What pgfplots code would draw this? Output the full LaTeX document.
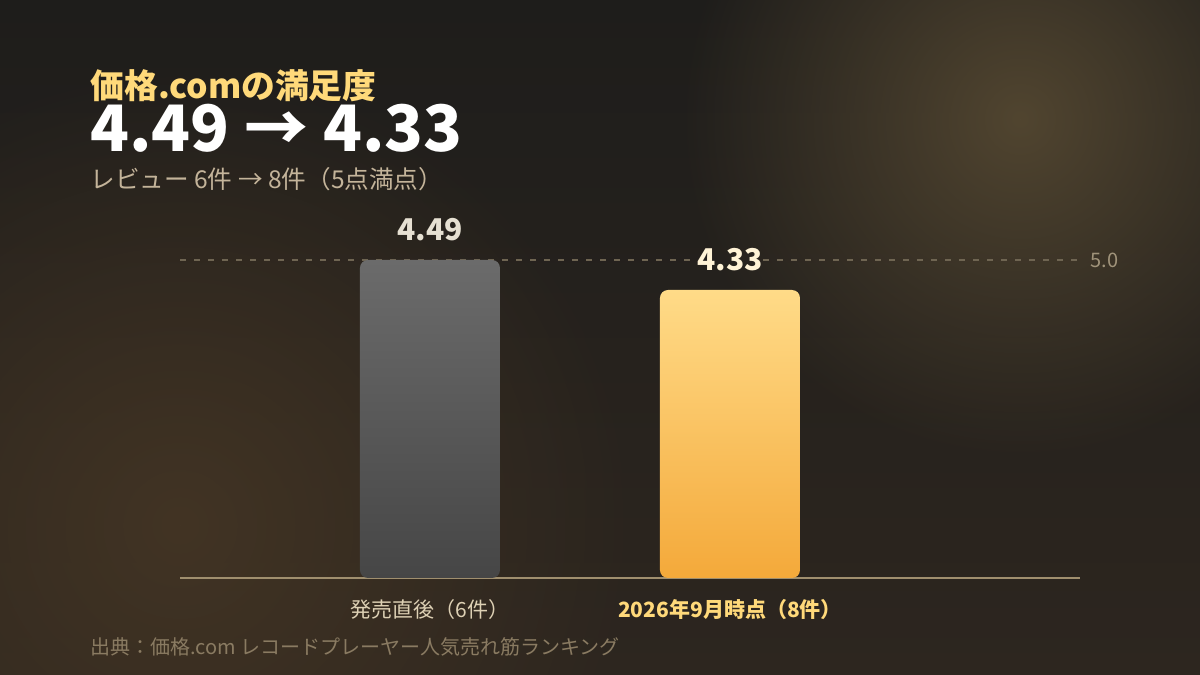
\documentclass[border=0pt]{standalone}
\usepackage{pgfplots}
\pgfplotsset{compat=1.18}
\usepackage{pgfplotstable}
\usepackage{fontspec}
\setmainfont{Noto Sans CJK JP}
\usetikzlibrary{fadings}

\definecolor{bgtop}{HTML}{1E1D1B}
\definecolor{bgbot}{HTML}{2D261F}
\definecolor{glowA}{HTML}{514530}
\definecolor{glowB}{HTML}{423424}
\definecolor{grayTop}{HTML}{6B6B6B}
\definecolor{grayBot}{HTML}{464646}
\definecolor{goldTop}{HTML}{FFDB88}
\definecolor{goldBot}{HTML}{F4A93A}
\definecolor{titleY}{HTML}{FFD97A}
\definecolor{subC}{HTML}{C4B49A}
\definecolor{catA}{HTML}{DDD0B4}
\definecolor{baseC}{HTML}{A08F6E}
\definecolor{dashC}{HTML}{6F6552}
\definecolor{refC}{HTML}{A0937A}
\definecolor{srcC}{HTML}{8A7B62}
\definecolor{valA}{HTML}{E6E0D2}
\definecolor{valB}{HTML}{FFF3D6}

\tikzfading[name=glowfade, inner color=transparent!0, outer color=transparent!100]

% scores; bars are drawn from the visual base 2.794
\pgfplotstableread{
x v
0 4.49
}\before
\pgfplotstableread{
x v
1 4.33
}\after

\begin{document}
\begin{tikzpicture}
\useasboundingbox (0,0) rectangle (600pt,337.5pt);
\begin{scope}
\clip (0,0) rectangle (600pt,337.5pt);
\shade[top color=bgtop, bottom color=bgbot] (0,0) rectangle (600pt,337.5pt);
\fill[glowA, path fading=glowfade] (510pt,278pt) circle (170pt);
\fill[glowB, path fading=glowfade] (90pt,75pt) circle (230pt);
\end{scope}

\node[anchor=base west, inner sep=0, text=titleY, font=\fontsize{16.9pt}{20pt}\selectfont\bfseries] at (45pt,288pt) {価格.comの満足度};
\node[anchor=base west, inner sep=0, text=white, font=\fontsize{32pt}{36pt}\selectfont\bfseries] at (45pt,261.5pt) {4.49 → 4.33};
\node[anchor=base west, inner sep=0, text=subC, font=\fontsize{12.3pt}{14pt}\selectfont] at (45pt,243pt) {レビュー 6件 → 8件（5点満点）};
\node[anchor=base west, inner sep=0, text=srcC, font=\fontsize{10pt}{12pt}\selectfont] at (45pt,10pt) {出典：価格.com レコードプレーヤー人気売れ筋ランキング};

\begin{axis}[
  scale only axis,
  width=450pt, height=189pt,
  at={(90pt,48.5pt)}, anchor=south west,
  xmin=-0.8333, xmax=2.1667,
  ymin=0, ymax=2.016,
  axis x line=bottom, axis y line=none,
  x axis line style={-, color=baseC, line width=0.8pt},
  xtick={0,1},
  xticklabels={{\textcolor{catA}{発売直後（6件）}},{\textcolor{titleY}{\bfseries 2026年9月時点（8件）}}},
  major tick length=0pt,
  xticklabel style={anchor=center, yshift=-16pt, font=\fontsize{10.5pt}{12pt}\selectfont},
  clip=false,
]
\addplot[dashC, line width=0.6pt, dash pattern=on 3pt off 4pt, forget plot]
  coordinates {(-0.8333,1.696) (0.89,1.696)};
\addplot[dashC, line width=0.6pt, dash pattern=on 3pt off 4pt, forget plot]
  coordinates {(1.11,1.696) (2.1667,1.696)};
\node[anchor=west, inner sep=0, xshift=5pt, text=refC, font=\fontsize{10pt}{12pt}\selectfont] at (axis cs:2.1667,1.696) {5.0};

\addplot[ybar, bar width=70pt, bar shift=0pt, draw=none,
  top color=grayTop, bottom color=grayBot, rounded corners=4pt,
  point meta=explicit,
  nodes near coords={\pgfmathprintnumber[fixed,fixed zerofill,precision=2,assume math mode=true]{\pgfplotspointmeta}},
  every node near coord/.append style={anchor=base, yshift=9.5pt, text=valA, font=\fontsize{15pt}{17pt}\selectfont\bfseries, rounded corners=0pt}]
  table[x=x, y expr=\thisrow{v}-2.794, meta=v] {\before};
\addplot[ybar, bar width=70pt, bar shift=0pt, draw=none,
  top color=goldTop, bottom color=goldBot, rounded corners=4pt,
  point meta=explicit,
  nodes near coords={\pgfmathprintnumber[fixed,fixed zerofill,precision=2,assume math mode=true]{\pgfplotspointmeta}},
  every node near coord/.append style={anchor=base, yshift=9.5pt, text=valB, font=\fontsize{15pt}{17pt}\selectfont\bfseries, rounded corners=0pt}]
  table[x=x, y expr=\thisrow{v}-2.794, meta=v] {\after};
\end{axis}
\end{tikzpicture}
\end{document}
